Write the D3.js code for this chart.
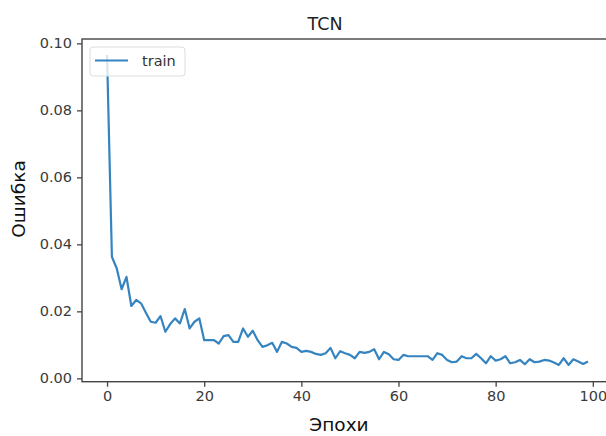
<!DOCTYPE html>
<html>
<head>
<meta charset="utf-8">
<script src="https://cdn.jsdelivr.net/npm/d3@7"></script>
<style>
  body { margin: 0; background: #fff; }
  svg { display: block; overflow: hidden; font-family: "DejaVu Sans", sans-serif; }
</style>
</head>
<body>
<div id="chart"></div>
<script>
// DATA ################################################
const title = "TCN";
const xLabel = "Эпохи";
const yLabel = "Ошибка";
const seriesName = "train";

// training loss per epoch (epoch = index)
const trainLoss = [
  0.0965, 0.0363, 0.0328, 0.0266, 0.0303, 0.0216, 0.0234, 0.0224, 0.0196, 0.0169,
  0.0166, 0.0186, 0.0139, 0.0162, 0.0179, 0.0164, 0.0207, 0.0149, 0.0169, 0.0179,
  0.0114, 0.0114, 0.0114, 0.0104, 0.0126, 0.0129, 0.0109, 0.0109, 0.0149, 0.0124,
  0.0142, 0.0114, 0.0094, 0.0099, 0.0106, 0.0079, 0.0109, 0.0104, 0.0094, 0.0091,
  0.0079, 0.0082, 0.0079, 0.0073, 0.0070, 0.0075, 0.0091, 0.0060, 0.0081, 0.0075,
  0.0070, 0.0060, 0.0079, 0.0076, 0.0079, 0.0087, 0.0057, 0.0079, 0.0072, 0.0057,
  0.0055, 0.0070, 0.0066, 0.0066, 0.0066, 0.0066, 0.0066, 0.0055, 0.0075, 0.0070,
  0.0055, 0.0048, 0.0050, 0.0066, 0.0060, 0.0060, 0.0073, 0.0060, 0.0045, 0.0066,
  0.0053, 0.0057, 0.0066, 0.0045, 0.0048, 0.0055, 0.0042, 0.0057, 0.0048, 0.0050,
  0.0055, 0.0053, 0.0047, 0.0040, 0.0060, 0.0040, 0.0057, 0.0050, 0.0043, 0.0050
];

const xTicks = [0, 20, 40, 60, 80, 100];
const yTicks = [0.00, 0.02, 0.04, 0.06, 0.08, 0.10];

// CONSTANTS ################################################
const width = 606;
const height = 436;
const plot = { left: 82, right: 612, top: 39, bottom: 381.7 };
const lineColor = "#3584c0";
const axisColor = "#444";

// SCALES =================================================
const xScale = d3.scaleLinear()
    .domain([-4.95, 103.95])
    .range([plot.left + 1, plot.right]);

const yScale = d3.scaleLinear()
    .domain([-0.001, 0.1013])
    .range([plot.bottom, plot.top]);

// MAIN SVG ==================================================
const svg = d3.select("#chart")
    .append("svg")
    .attr("width", width)
    .attr("height", height);

// AXIS TICKS ----------------------------------------------
const xAxis = svg.append("g")
    .attr("transform", `translate(0,${plot.bottom})`)
    .call(d3.axisBottom(xScale).tickValues(xTicks).tickSize(5).tickPadding(4).tickSizeOuter(0));

const yAxis = svg.append("g")
    .attr("transform", `translate(${plot.left},0)`)
    .call(d3.axisLeft(yScale).tickValues(yTicks).tickFormat(d3.format(".2f")).tickSize(5).tickPadding(5).tickSizeOuter(0));

[xAxis, yAxis].forEach(g => {
  g.select(".domain").remove();
  g.selectAll(".tick line").attr("stroke", axisColor).attr("stroke-width", 1.3);
  g.selectAll(".tick text")
      .attr("fill", "#3a3a3a")
      .style("font-size", "14.5px")
      .style("font-family", "DejaVu Sans, sans-serif");
});

// SPINES ----------------------------------------------------
svg.append("rect")
    .attr("x", plot.left)
    .attr("y", plot.top)
    .attr("width", plot.right - plot.left)
    .attr("height", plot.bottom - plot.top)
    .attr("fill", "none")
    .attr("stroke", axisColor)
    .attr("stroke-width", 1.4);

// LINE ========================================================
const line = d3.line()
    .x((d, i) => xScale(i))
    .y(d => yScale(d));

svg.append("path")
    .datum(trainLoss)
    .attr("fill", "none")
    .attr("stroke", lineColor)
    .attr("stroke-width", 2.2)
    .attr("stroke-linejoin", "round")
    .attr("d", line);

// LEGEND ------------------------------------------------------
const legend = svg.append("g").attr("transform", "translate(90,47)");
legend.append("rect")
    .attr("width", 95)
    .attr("height", 29)
    .attr("rx", 3)
    .attr("fill", "#fff")
    .attr("fill-opacity", 0.8)
    .attr("stroke", "#ddd");
legend.append("line")
    .attr("x1", 5).attr("x2", 38)
    .attr("y1", 13.5).attr("y2", 13.5)
    .attr("stroke", lineColor)
    .attr("stroke-width", 2.2);
legend.append("text")
    .attr("x", 52)
    .attr("y", 19)
    .attr("fill", "#333")
    .style("font-size", "14.5px")
    .text(seriesName);

// TITLES ------------------------------------------------------
svg.append("text")
    .attr("text-anchor", "middle")
    .attr("x", 325)
    .attr("y", 30)
    .attr("fill", "#222")
    .style("font-size", "17.5px")
    .text(title);

svg.append("text")
    .attr("text-anchor", "middle")
    .attr("x", 339)
    .attr("y", 431)
    .attr("fill", "#111")
    .style("font-size", "18.5px")
    .text(xLabel);

svg.append("text")
    .attr("text-anchor", "middle")
    .attr("transform", "translate(25,199) rotate(-90)")
    .attr("fill", "#111")
    .style("font-size", "18.5px")
    .text(yLabel);
</script>
</body>
</html>
